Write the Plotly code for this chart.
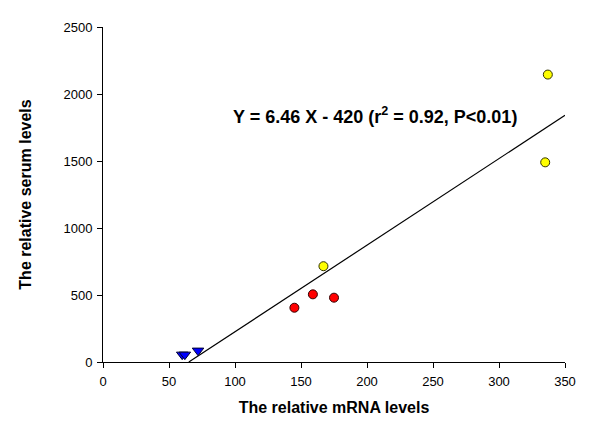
import plotly.graph_objects as go

# Data
blue_x = [60, 62, 72]
blue_y = [55, 55, 85]
red_x = [145, 159, 175]
red_y = [405, 505, 480]
yellow_x = [167, 335, 337]
yellow_y = [715, 1490, 2145]
slope = 6.46
intercept = -420
fit_x = [65.0, 350.0]
fit_y = [slope * x + intercept for x in fit_x]
x_ticks = [0, 50, 100, 150, 200, 250, 300, 350]
y_ticks = [0, 500, 1000, 1500, 2000, 2500]

FONT = "Liberation Sans, Arial, sans-serif"

fig = go.Figure()
fig.add_trace(go.Scatter(x=fit_x, y=fit_y, mode="lines",
                         line=dict(color="black", width=1.2), showlegend=False))
fig.add_trace(go.Scatter(x=blue_x, y=blue_y, mode="markers",
                         marker=dict(symbol="triangle-down", size=10, color="#0000ff",
                                     line=dict(color="#000033", width=1)), showlegend=False))
fig.add_trace(go.Scatter(x=red_x, y=red_y, mode="markers",
                         marker=dict(symbol="circle", size=9, color="#ff0000",
                                     line=dict(color="#330000", width=1)), showlegend=False))
fig.add_trace(go.Scatter(x=yellow_x, y=yellow_y, mode="markers",
                         marker=dict(symbol="circle", size=9, color="#ffff00",
                                     line=dict(color="#333300", width=1)), showlegend=False))

fig.add_annotation(x=0.589, y=0.777, xref="paper", yref="paper", showarrow=False,
                   text="<b>Y = 6.46 X - 420 (r<sup>2</sup> = 0.92, P&lt;0.01)</b>",
                   font=dict(family=FONT, size=18, color="black"))

axis_common = dict(showgrid=False, zeroline=False, showline=True, linecolor="black",
                   linewidth=1, ticks="outside", ticklen=5, tickcolor="black",
                   ticklabelstandoff=2,
                   tickfont=dict(family=FONT, size=13, color="black"))

# The page body adds an 8px offset; margins compensate so the plot area lands
# where it is in the reference.
fig.update_layout(
    width=600, height=430,
    margin=dict(l=95, r=43, t=17, b=76),
    paper_bgcolor="white", plot_bgcolor="white",
    xaxis=dict(range=[0, 350], tickvals=x_ticks,
               title=dict(text="<b>The relative mRNA levels</b>", standoff=14,
                          font=dict(family=FONT, size=16, color="black")),
               **axis_common),
    yaxis=dict(range=[0, 2500], tickvals=y_ticks,
               title=dict(text="<b>The relative serum levels</b>", standoff=27,
                          font=dict(family=FONT, size=16, color="black")),
               **axis_common),
)

fig.write_html("out.html")
